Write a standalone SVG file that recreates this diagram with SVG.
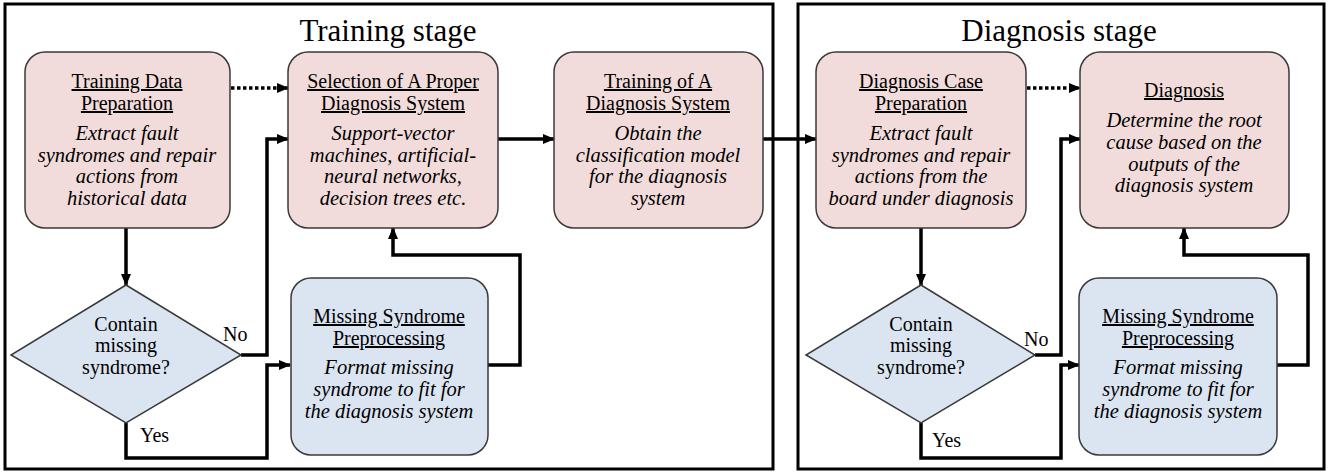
<svg xmlns="http://www.w3.org/2000/svg" width="1338" height="474" viewBox="0 0 1338 474" font-family="'Liberation Serif', 'Times New Roman', serif">
<defs>
<marker id="ah" markerUnits="userSpaceOnUse" markerWidth="12" markerHeight="12" viewBox="0 0 12 12" refX="11" refY="6" orient="auto">
<path d="M0,1 L12,6 L0,11 Z" fill="#000"/>
</marker>
<style>
.frame{fill:#fff;stroke:#000;stroke-width:3}
.pink{fill:#f2dcdb;stroke:#3a3a3a;stroke-width:1.5}
.blue{fill:#dbe5f1;stroke:#3a3a3a;stroke-width:1.5}
.conn{fill:none;stroke:#000;stroke-width:3.5;marker-end:url(#ah)}
.dot{fill:none;stroke:#000;stroke-width:3.5;stroke-dasharray:3.5 2.5;marker-end:url(#ah)}
.t{font-family:'Liberation Serif','Times New Roman',serif;fill:#000;text-anchor:middle}
.stage{font-size:31px}
.ttl{font-size:20px;text-decoration:underline}
.desc{font-size:20.5px;font-style:italic}
.lbl{font-size:20px}
.lab{font-size:20px;text-anchor:start}
</style>
</defs>
<g id="training-frame">
<rect class="frame" x="5" y="4" width="768" height="465"/>
<text class="t stage" x="388" y="41">Training stage</text>
</g>
<g id="diagnosis-frame">
<rect class="frame" x="798" y="4" width="526" height="465"/>
<text class="t stage" x="1059" y="41">Diagnosis stage</text>
</g>
<g id="connectors">
<path class="dot" d="M231,88 L288,88"/>
<path class="conn" d="M126,228 L126,285"/>
<path class="conn" d="M241,355 L267,355 L267,139 L288,139"/>
<path class="conn" d="M126,423 L126,458 L267,458 L267,365 L290,365"/>
<path class="conn" d="M488,365 L520,365 L520,255 L393,255 L393,228"/>
<path class="conn" d="M498,139 L554,139"/>
<path class="conn" d="M763,139 L816,139"/>
<path class="dot" d="M1027,88 L1080,88"/>
<path class="conn" d="M921,228 L921,285"/>
<path class="conn" d="M1035,355 L1061,355 L1061,139 L1080,139"/>
<path class="conn" d="M921,423 L921,458 L1061,458 L1061,365 L1079,365"/>
<path class="conn" d="M1277,365 L1308,365 L1308,255 L1184,255 L1184,228"/>
<text class="t lab" x="223" y="341">No</text>
<text class="t lab" x="140" y="442">Yes</text>
<text class="t lab" x="1024" y="346">No</text>
<text class="t lab" x="932" y="447">Yes</text>
</g>
<g id="training-data-preparation">
<rect class="pink" x="25" y="52" width="205" height="176" rx="20"/>
<text class="t ttl" x="127" y="88">Training Data</text>
<text class="t ttl" x="127" y="110">Preparation</text>
<text class="t desc" x="127" y="140">Extract fault</text>
<text class="t desc" x="127" y="162">syndromes and repair</text>
<text class="t desc" x="127" y="183">actions from</text>
<text class="t desc" x="127" y="205">historical data</text>
</g>
<g id="selection">
<rect class="pink" x="288" y="52" width="210" height="176" rx="20"/>
<text class="t ttl" x="393" y="88">Selection of A Proper</text>
<text class="t ttl" x="393" y="110">Diagnosis System</text>
<text class="t desc" x="393" y="140">Support-vector</text>
<text class="t desc" x="393" y="162">machines, artificial-</text>
<text class="t desc" x="393" y="183">neural networks,</text>
<text class="t desc" x="393" y="205">decision trees etc.</text>
</g>
<g id="training">
<rect class="pink" x="554" y="52" width="209" height="176" rx="20"/>
<text class="t ttl" x="658" y="88">Training of A</text>
<text class="t ttl" x="658" y="110">Diagnosis System</text>
<text class="t desc" x="658" y="140">Obtain the</text>
<text class="t desc" x="658" y="162">classification model</text>
<text class="t desc" x="658" y="183">for the diagnosis</text>
<text class="t desc" x="658" y="205">system</text>
</g>
<g id="diagnosis-case-preparation">
<rect class="pink" x="816" y="52" width="210" height="176" rx="20"/>
<text class="t ttl" x="921" y="88">Diagnosis Case</text>
<text class="t ttl" x="921" y="110">Preparation</text>
<text class="t desc" x="921" y="140">Extract fault</text>
<text class="t desc" x="921" y="162">syndromes and repair</text>
<text class="t desc" x="921" y="183">actions from the</text>
<text class="t desc" x="921" y="205">board under diagnosis</text>
</g>
<g id="diagnosis">
<rect class="pink" x="1080" y="52" width="209" height="176" rx="20"/>
<text class="t ttl" x="1184" y="97">Diagnosis</text>
<text class="t desc" x="1184" y="127">Determine the root</text>
<text class="t desc" x="1184" y="149">cause based on the</text>
<text class="t desc" x="1184" y="171">outputs of the</text>
<text class="t desc" x="1184" y="192">diagnosis system</text>
</g>
<g id="training-decision">
<polygon class="blue" points="126,285 241,355 126,423 11,355"/>
<text class="t lbl" x="126" y="331">Contain</text>
<text class="t lbl" x="126" y="352">missing</text>
<text class="t lbl" x="126" y="374">syndrome?</text>
</g>
<g id="training-missing-preprocessing">
<rect class="blue" x="291" y="278" width="197" height="177" rx="20"/>
<text class="t ttl" x="389" y="323">Missing Syndrome</text>
<text class="t ttl" x="389" y="345">Preprocessing</text>
<text class="t desc" x="389" y="374">Format missing</text>
<text class="t desc" x="389" y="396">syndrome to fit for</text>
<text class="t desc" x="389" y="418">the diagnosis system</text>
</g>
<g id="diagnosis-decision">
<polygon class="blue" points="921,285 1035,355 921,423 806,355"/>
<text class="t lbl" x="921" y="331">Contain</text>
<text class="t lbl" x="921" y="352">missing</text>
<text class="t lbl" x="921" y="374">syndrome?</text>
</g>
<g id="diagnosis-missing-preprocessing">
<rect class="blue" x="1079" y="278" width="198" height="177" rx="20"/>
<text class="t ttl" x="1178" y="323">Missing Syndrome</text>
<text class="t ttl" x="1178" y="345">Preprocessing</text>
<text class="t desc" x="1178" y="374">Format missing</text>
<text class="t desc" x="1178" y="396">syndrome to fit for</text>
<text class="t desc" x="1178" y="418">the diagnosis system</text>
</g>
</svg>
